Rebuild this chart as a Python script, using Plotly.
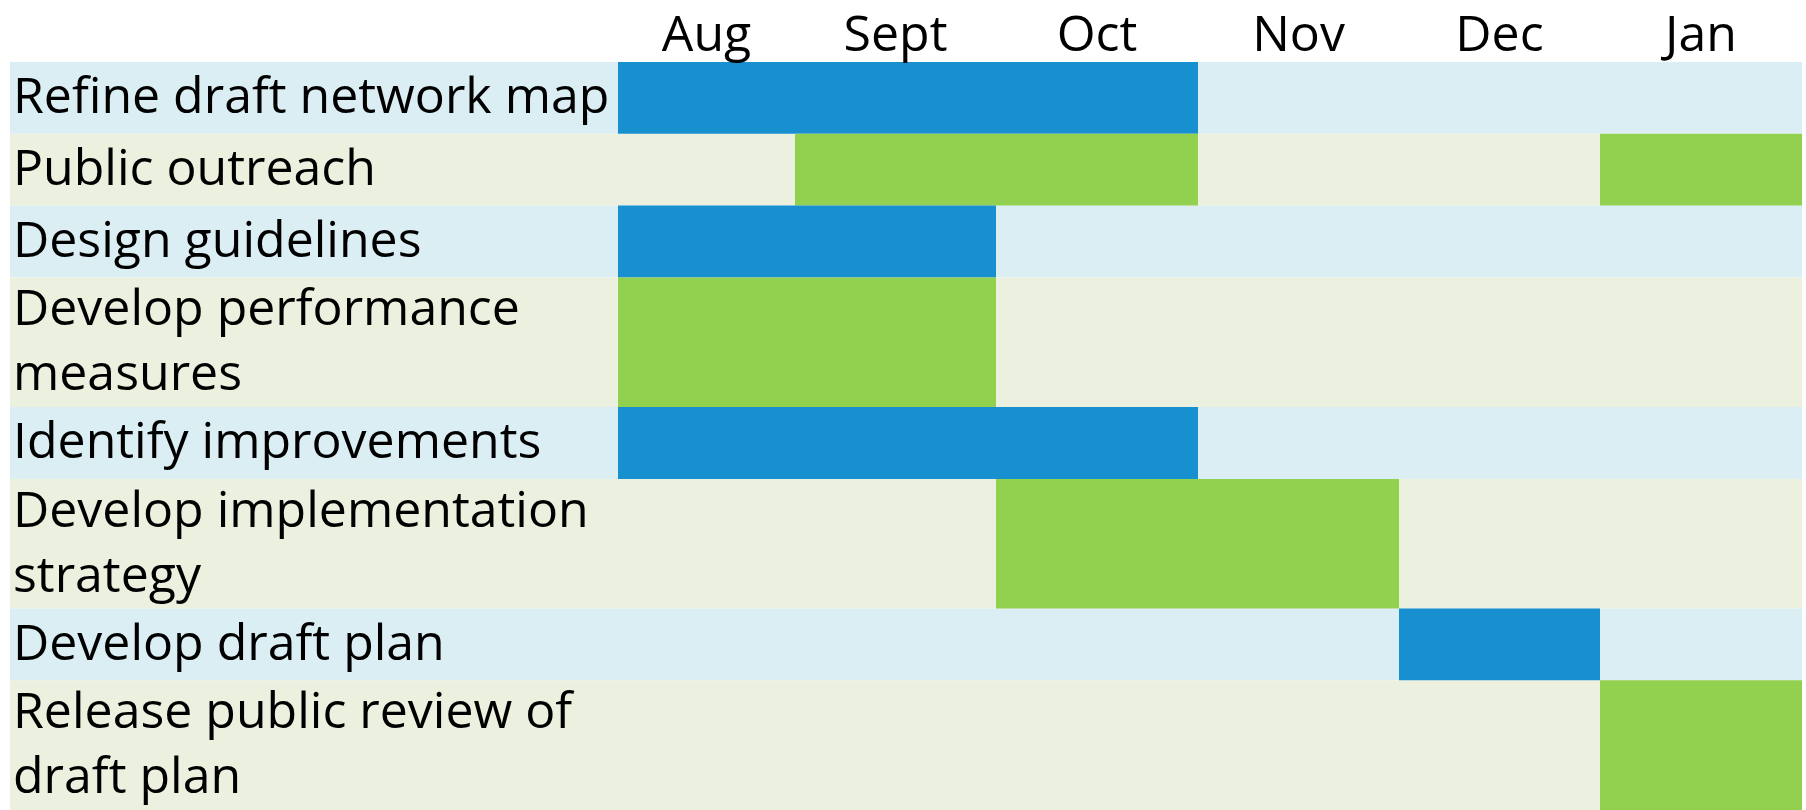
import plotly.graph_objects as go

# ---- data ----
months = ["Aug", "Sept", "Oct", "Nov", "Dec", "Jan"]
tasks = [
    "Refine draft network map",
    "Public outreach",
    "Design guidelines",
    "Develop performance<br>measures",
    "Identify improvements",
    "Develop implementation<br>strategy",
    "Develop draft plan",
    "Release public review of<br>draft plan",
]
# scheduled segments (task, first month, last month inclusive)
seg_task = [0, 1, 1, 2, 3, 4, 5, 6, 7]
seg_start = ["Aug", "Sept", "Jan", "Aug", "Aug", "Aug", "Oct", "Dec", "Jan"]
seg_end = ["Oct", "Oct", "Jan", "Sept", "Sept", "Oct", "Nov", "Dec", "Jan"]

# ---- layout / style ----
col_widths = [608, 177, 201, 202, 201, 201, 202]  # label column + month columns
line_pitch = 58
row_pad = 14
text_dx = 3
text_dy = 3
FONT = "Open Sans"
FS = 50
BAR_COLORS = ["#1890D0", "#92D050"]
ROW_COLORS = ["#DAEEF3", "#EBF1DE"]

edges = [0]
for w in col_widths:
    edges.append(edges[-1] + w)
total_w = edges[-1]
month_centers = [(edges[i + 1] + edges[i + 2]) / 2 for i in range(len(months))]

row_h = [row_pad + line_pitch * (t.count("<br>") + 1) for t in tasks]
row_c = []
acc = 0
for h in row_h:
    row_c.append(acc + h / 2)
    acc += h
total_h = acc

fig = go.Figure()

# row backgrounds
fig.add_trace(go.Bar(
    orientation="h",
    y=row_c,
    base=[0] * len(tasks),
    x=[total_w] * len(tasks),
    width=row_h,
    marker=dict(color=[ROW_COLORS[i % 2] for i in range(len(tasks))], line=dict(width=0)),
    hoverinfo="skip",
    showlegend=False,
))

# task bars
mi = {m: i for i, m in enumerate(months)}
fig.add_trace(go.Bar(
    orientation="h",
    y=[row_c[t] for t in seg_task],
    base=[edges[mi[s] + 1] for s in seg_start],
    x=[edges[mi[e] + 2] - edges[mi[s] + 1] for s, e in zip(seg_start, seg_end)],
    width=[row_h[t] for t in seg_task],
    marker=dict(color=[BAR_COLORS[t % 2] for t in seg_task], line=dict(width=0)),
    hovertext=[tasks[t].replace("<br>", " ") for t in seg_task],
    hoverinfo="text",
    showlegend=False,
))

# task labels
fig.add_trace(go.Scatter(
    x=[text_dx] * len(tasks),
    y=[c + text_dy for c in row_c],
    text=tasks,
    mode="text",
    textposition="middle right",
    textfont=dict(family=FONT, size=FS, color="black"),
    hoverinfo="skip",
    showlegend=False,
    cliponaxis=False,
))

fig.update_layout(
    width=1806,
    height=810,
    margin=dict(l=10, r=4, t=62, b=0, autoexpand=False),
    barmode="overlay",
    plot_bgcolor="white",
    paper_bgcolor="white",
    font=dict(family=FONT, size=FS, color="black"),
    xaxis=dict(
        range=[0, total_w],
        side="top",
        tickmode="array",
        tickvals=month_centers,
        ticktext=months,
        ticks="",
        showgrid=False,
        zeroline=False,
        showline=False,
        automargin=False,
        tickfont=dict(family=FONT, size=FS, color="black"),
        fixedrange=True,
    ),
    yaxis=dict(
        range=[total_h, 0],
        visible=False,
        automargin=False,
        fixedrange=True,
    ),
)

fig.write_html(
    "out.html",
    config={"displayModeBar": False},
    post_script="document.body.style.margin='0px';document.body.style.overflow='hidden';",
)
